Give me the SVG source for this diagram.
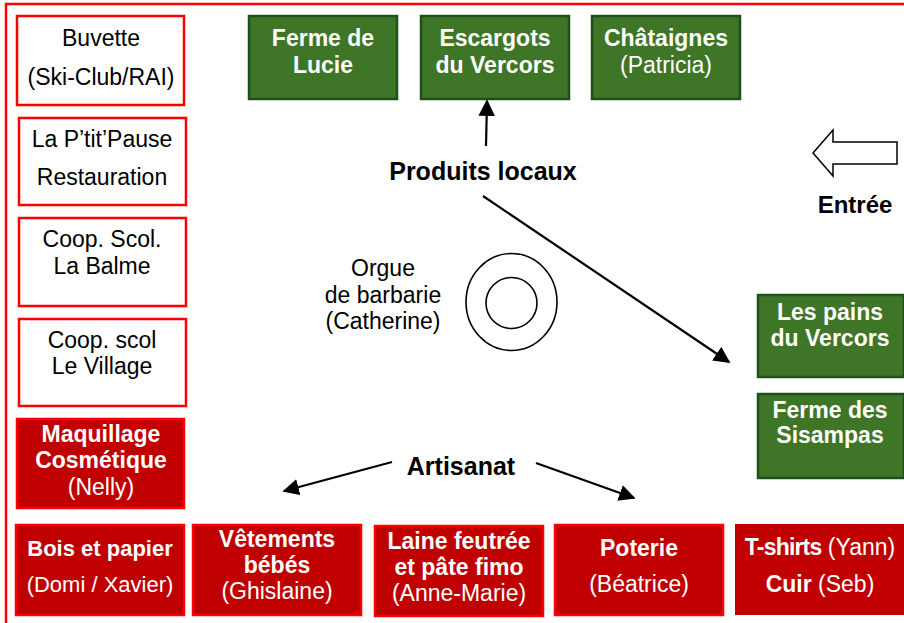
<svg xmlns="http://www.w3.org/2000/svg" width="904" height="623" viewBox="0 0 904 623">
<defs>
<style>
text{font-family:"Liberation Sans",Arial,sans-serif;font-size:23px;text-anchor:middle}
.b{font-weight:bold}
.w{fill:#ffffff}
.lbl{font-weight:bold;font-size:25px}
.wbox{fill:#ffffff;stroke:#ff0000;stroke-width:2.5}
.rbox{fill:#c00000;stroke:#ff0000;stroke-width:2.5}
.gbox{fill:#3e7527;stroke:#1f4f1b;stroke-width:2.5}
.conn{stroke:#000000;stroke-width:2.2;fill:none;marker-end:url(#ah)}
</style>
<marker id="ah" viewBox="0 0 10 10" refX="9" refY="5" markerWidth="7.5" markerHeight="7.5" markerUnits="strokeWidth" orient="auto">
<path d="M0,0 L10,5 L0,10 z" fill="#000000"/>
</marker>
</defs>
<rect x="0" y="0" width="904" height="623" fill="#ffffff"/>
<rect id="border" x="6" y="4" width="1000" height="700" fill="none" stroke="#ff0000" stroke-width="2.5"/>

<g id="buvette"><rect class="wbox" x="17" y="16" width="167" height="89"/>
<text x="101" y="46">Buvette</text><text x="101" y="85">(Ski-Club/RAI)</text></g>
<g id="ptitpause"><rect class="wbox" x="19" y="118" width="167" height="87"/>
<text x="102" y="147">La P’tit’Pause</text><text x="102" y="185">Restauration</text></g>
<g id="coop-balme"><rect class="wbox" x="19" y="218" width="167" height="88"/>
<text x="102" y="247">Coop. Scol.</text><text x="102" y="274">La Balme</text></g>
<g id="coop-village"><rect class="wbox" x="19" y="319" width="167" height="87"/>
<text x="102" y="348">Coop. scol</text><text x="102" y="374">Le Village</text></g>
<g id="maquillage"><rect class="rbox" x="17" y="419" width="167" height="89"/>
<text class="b w" x="101" y="442">Maquillage</text><text class="b w" x="101" y="468">Cosmétique</text><text class="w" x="101" y="495">(Nelly)</text></g>

<g id="ferme-lucie"><rect class="gbox" x="249" y="16" width="148" height="83"/>
<text class="b w" x="323" y="46">Ferme de</text><text class="b w" x="323" y="73">Lucie</text></g>
<g id="escargots"><rect class="gbox" x="421" y="16" width="148" height="83"/>
<text class="b w" x="495" y="46">Escargots</text><text class="b w" x="495" y="73">du Vercors</text></g>
<g id="chataignes"><rect class="gbox" x="592" y="16" width="148" height="83"/>
<text class="b w" x="666" y="46">Châtaignes</text><text class="w" x="666" y="73">(Patricia)</text></g>

<g id="pains"><rect class="gbox" x="758" y="295" width="146" height="82"/>
<text class="b w" x="830" y="320">Les pains</text><text class="b w" x="830" y="346">du Vercors</text></g>
<g id="sisampas"><rect class="gbox" x="758" y="394" width="146" height="84"/>
<text class="b w" x="830" y="418">Ferme des</text><text class="b w" x="830" y="443">Sisampas</text></g>

<g id="bois"><rect class="rbox" x="16" y="525" width="168" height="90"/>
<text class="b w" x="100" y="556" style="font-size:22px">Bois et papier</text><text class="w" x="100" y="592" style="font-size:22px">(Domi / Xavier)</text></g>
<g id="vetements"><rect class="rbox" x="193" y="525" width="168" height="90"/>
<text class="b w" x="277" y="547">Vêtements</text><text class="b w" x="277" y="573">bébés</text><text class="w" x="277" y="599">(Ghislaine)</text></g>
<g id="laine"><rect class="rbox" x="375" y="526" width="168" height="90"/>
<text class="b w" x="459" y="549">Laine feutrée</text><text class="b w" x="459" y="575">et pâte fimo</text><text class="w" x="459" y="601">(Anne-Marie)</text></g>
<g id="poterie"><rect class="rbox" x="555" y="525" width="168" height="90"/>
<text class="b w" x="639" y="556">Poterie</text><text class="w" x="639" y="592">(Béatrice)</text></g>
<g id="tshirts"><rect x="735" y="524" width="170" height="91" fill="#c00000"/>
<text class="w" x="820" y="555"><tspan class="b" letter-spacing="-0.8">T-shirts</tspan> (Yann)</text><text class="w" x="820" y="592"><tspan class="b">Cuir</tspan> (Seb)</text></g>

<g id="orgue">
<ellipse cx="511.5" cy="302" rx="45.5" ry="48.5" fill="none" stroke="#000" stroke-width="1.6"/>
<circle cx="511.5" cy="303" r="25.5" fill="none" stroke="#000" stroke-width="1.6"/>
<text x="383" y="276">Orgue</text><text x="383" y="303">de barbarie</text><text x="383" y="329">(Catherine)</text></g>

<g id="produits"><text class="lbl" x="483" y="180">Produits locaux</text></g>
<g id="artisanat"><text class="lbl" x="461" y="475">Artisanat</text></g>
<g id="entree">
<polygon points="813,153 833,130 833,142 897,142 897,164 833,164 833,176" fill="#ffffff" stroke="#000" stroke-width="1.5"/>
<text class="b" x="855" y="213" style="font-size:24px">Entrée</text></g>

<g id="connectors">
<line class="conn" x1="486" y1="146" x2="487" y2="101"/>
<line class="conn" x1="483" y1="196" x2="729" y2="362"/>
<line class="conn" x1="392" y1="462" x2="284" y2="491"/>
<line class="conn" x1="536" y1="463" x2="634" y2="498"/>
</g>
</svg>
